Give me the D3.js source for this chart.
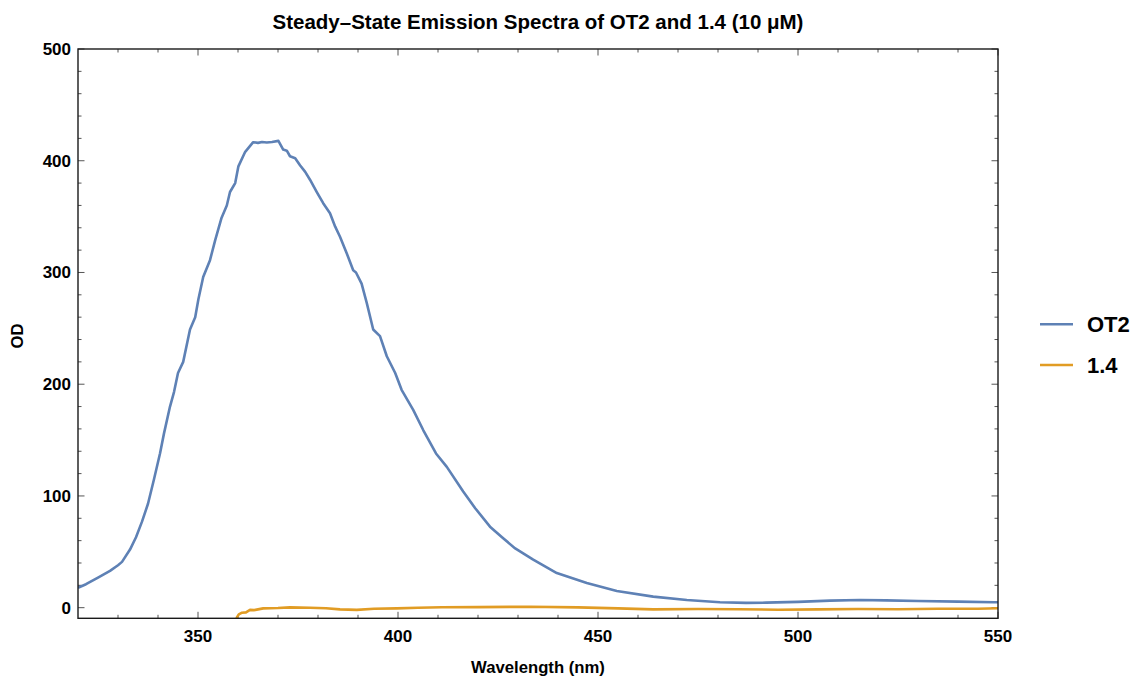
<!DOCTYPE html>
<html>
<head>
<meta charset="utf-8">
<script src="https://cdn.jsdelivr.net/npm/d3@7"></script>
<style>
  body { margin: 0; background: #fff; }
  text { font-family: "Liberation Sans", Arial, sans-serif; font-weight: bold; fill: #000; }
</style>
</head>
<body>
<div id="chart"></div>
<script>
// OT2 emission, [wavelength nm, OD]
var ot2 = [
  [320, 17.9], [322, 21], [325, 27], [328, 33], [330, 38], [331, 41], [333, 52],
  [334.5, 63], [336, 77], [337.5, 93], [339, 115], [340.5, 138], [341.5, 156],
  [343, 180], [344, 193], [345, 210], [346.3, 220], [348, 249], [349.3, 260],
  [350.1, 276], [351.3, 296], [353, 311], [354.3, 329], [355.9, 349], [357.2, 360],
  [358, 372], [359.3, 380], [360.1, 395], [361.8, 408], [363.8, 416.6], [365, 416],
  [366, 416.8], [367.2, 416.3], [368.5, 416.8], [370.1, 417.8], [371.3, 410],
  [372.2, 409], [373, 404], [374.3, 402.3], [375.5, 396], [376.8, 390], [378, 383],
  [379.7, 372], [381.3, 362], [383, 353], [384.3, 341], [385.5, 332], [387.2, 317],
  [388.8, 302], [389.5, 300], [390.9, 290], [392.2, 272.5], [393.8, 249],
  [395.5, 243], [397.2, 225], [399.3, 210], [400.9, 195], [403.8, 177], [406.3, 159],
  [409.5, 138], [412.2, 126], [416.3, 104], [419.3, 89], [423, 72.5], [426, 63],
  [429.3, 53], [433.8, 43], [439.7, 31], [447.2, 22], [454.7, 15], [463.8, 9.9],
  [472.2, 6.9], [480.5, 4.8], [487, 4.3], [492, 4.5], [500, 5.2], [508, 6.3],
  [515.5, 6.9], [522, 6.5], [530, 6], [540, 5.4], [549, 4.8], [550, 4.9]
];

// compound 1.4 emission
var c14 = [
  [359.6, -9.5], [360.2, -6], [361, -4.5], [362, -4.2], [363, -2], [364, -2.2],
  [366.3, -0.6], [370, -0.3], [373, 0.3], [378, 0], [382, -0.5], [385.5, -1.5],
  [389.7, -2], [394, -1], [399.7, -0.6], [405, 0], [411, 0.4], [420, 0.5],
  [433, 0.9], [445, 0.3], [455, -0.6], [463.8, -1.5], [475, -1.2], [485, -1.4],
  [495, -1.8], [505, -1.5], [515, -1.2], [525, -1.4], [535, -1.0], [545, -0.9],
  [550, -0.5]
];

var seriesNames = ["OT2", "1.4"];
var seriesColors = ["#5E81B5", "#E19C24"];
var xMajor = [350, 400, 450, 500, 550];
var yMajor = [0, 100, 200, 300, 400, 500];

var width = 1133, height = 676;
var pL = 78, pR = 998, pT = 49, pB = 618.3;

var svg = d3.select("#chart").append("svg")
  .attr("width", width).attr("height", height);

var x = d3.scaleLinear().domain([320, 550]).range([pL, pR]);
var y = d3.scaleLinear().domain([-9.5, 500]).range([pB, pT]);

var xMinor = d3.range(330, 551, 10).filter(function(d){ return xMajor.indexOf(d) < 0; });
var yMinor = d3.range(20, 500, 20).filter(function(d){ return yMajor.indexOf(d) < 0; });

// ticks on all four sides, pointing inward
var tk = svg.append("g").attr("stroke", "#555").attr("stroke-width", 1);
function xTicks(vals, len) {
  vals.forEach(function(v){
    tk.append("line").attr("x1", x(v)).attr("x2", x(v)).attr("y1", pB).attr("y2", pB - len);
    tk.append("line").attr("x1", x(v)).attr("x2", x(v)).attr("y1", pT).attr("y2", pT + len);
  });
}
function yTicks(vals, len) {
  vals.forEach(function(v){
    tk.append("line").attr("x1", pL).attr("x2", pL + len).attr("y1", y(v)).attr("y2", y(v));
    tk.append("line").attr("x1", pR).attr("x2", pR - len).attr("y1", y(v)).attr("y2", y(v));
  });
}
xTicks(xMajor, 6.5);
xTicks(xMinor, 3.5);
yTicks(yMajor, 6.5);
yTicks(yMinor, 3.5);

// curves
var line = d3.line().x(function(d){ return x(d[0]); }).y(function(d){ return y(d[1]); });
svg.append("clipPath").attr("id", "clip").append("rect")
  .attr("x", pL).attr("y", pT).attr("width", pR - pL).attr("height", pB - pT);
[ot2, c14].forEach(function(s, i){
  svg.append("path").datum(s)
    .attr("clip-path", "url(#clip)")
    .attr("d", line)
    .attr("fill", "none")
    .attr("stroke", seriesColors[i])
    .attr("stroke-width", 2.6)
    .attr("stroke-linejoin", "round");
});

// frame
svg.append("rect").attr("x", pL).attr("y", pT)
  .attr("width", pR - pL).attr("height", pB - pT)
  .attr("fill", "none").attr("stroke", "#1a1a1a").attr("stroke-width", 1.4);

// tick labels
xMajor.forEach(function(v){
  svg.append("text").attr("x", x(v)).attr("y", 642)
    .attr("text-anchor", "middle").style("font-size", "17px").text(v);
});
yMajor.forEach(function(v){
  svg.append("text").attr("x", 71).attr("y", y(v) + 6)
    .attr("text-anchor", "end").style("font-size", "17px").text(v);
});

// titles
svg.append("text").attr("x", (pL + pR) / 2).attr("y", 29)
  .attr("text-anchor", "middle").style("font-size", "20.5px")
  .text("Steady\u2013State Emission Spectra of OT2 and 1.4 (10 \u03bcM)");
svg.append("text").attr("x", (pL + pR) / 2).attr("y", 673)
  .attr("text-anchor", "middle").style("font-size", "16.7px")
  .text("Wavelength (nm)");
svg.append("text").attr("transform", "translate(23,336) rotate(-90)")
  .attr("text-anchor", "middle").style("font-size", "16.7px")
  .text("OD");

// legend
var legY = [324.3, 365];
seriesNames.forEach(function(n, i){
  svg.append("line").attr("x1", 1040).attr("x2", 1073)
    .attr("y1", legY[i]).attr("y2", legY[i])
    .attr("stroke", seriesColors[i]).attr("stroke-width", 2.6);
  svg.append("text").attr("x", 1087).attr("y", legY[i] + 8)
    .style("font-size", "22px").text(n);
});
</script>
</body>
</html>
